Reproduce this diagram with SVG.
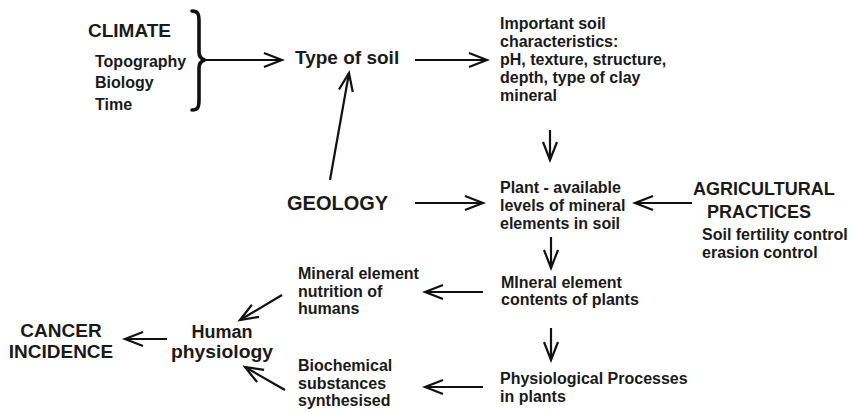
<svg xmlns="http://www.w3.org/2000/svg" width="852" height="412" viewBox="0 0 852 412">
<defs>
<marker id="ah" markerUnits="userSpaceOnUse" markerWidth="24" markerHeight="20" viewBox="0 0 24 20" refX="21" refY="10" orient="auto">
<path d="M3,3 L21,10 L3,17" fill="none" stroke="#111" stroke-width="2.2" stroke-linejoin="miter"/>
</marker>
<style>
text{font-family:"Liberation Sans",Arial,sans-serif;font-weight:bold;fill:#1a1a1a}
.big{font-size:19px}
.mid{font-size:16px}
.sm{font-size:16px}
.c line{stroke:#111;stroke-width:2.2;marker-end:url(#ah)}
</style>
</defs>
<rect width="852" height="412" fill="#fff"/>
<g id="climate">
<text class="big" x="88" y="37">CLIMATE</text>
<text class="sm" x="95" y="67">Topography</text>
<text class="sm" x="95" y="88">Biology</text>
<text class="sm" x="95" y="110">Time</text>
<path d="M192,11 C198,11 199,14 199,21 L199,52 C199,57 201,59 205,60 C201,61 199,63 199,68 L199,100 C199,107 198,110 192,110" fill="none" stroke="#111" stroke-width="3.6" stroke-linecap="round"/>
</g>
<g id="type-of-soil"><text class="big" x="295" y="64">Type of soil</text></g>
<g id="soil-characteristics">
<text class="mid" x="500" y="29">Important soil</text>
<text class="mid" x="500" y="47">characteristics:</text>
<text class="mid" x="500" y="65">pH, texture, structure,</text>
<text class="mid" x="500" y="83">depth, type of clay</text>
<text class="mid" x="500" y="101">mineral</text>
</g>
<g id="geology"><text style="font-size:20px" x="287" y="210">GEOLOGY</text></g>
<g id="plant-available">
<text class="mid" x="500" y="193">Plant - available</text>
<text class="mid" x="500" y="211">levels of mineral</text>
<text class="mid" x="500" y="229">elements in soil</text>
</g>
<g id="agricultural-practices">
<text style="font-size:18px" x="693" y="195">AGRICULTURAL</text>
<text style="font-size:18px" x="707" y="218">PRACTICES</text>
<text class="sm" x="702" y="240">Soil fertility control</text>
<text class="sm" x="702" y="258">erasion control</text>
</g>
<g id="mineral-contents">
<text class="mid" x="501" y="288">MIneral element</text>
<text class="mid" x="501" y="305">contents of plants</text>
</g>
<g id="physiological-processes">
<text class="mid" x="500" y="384">Physiological Processes</text>
<text class="mid" x="500" y="402">in plants</text>
</g>
<g id="mineral-nutrition">
<text class="mid" x="298" y="279">Mineral element</text>
<text class="mid" x="298" y="297">nutrition of</text>
<text class="mid" x="298" y="314">humans</text>
</g>
<g id="biochemical">
<text class="mid" x="298" y="371">Biochemical</text>
<text class="mid" x="298" y="389">substances</text>
<text class="mid" x="298" y="406">synthesised</text>
</g>
<g id="human-physiology">
<text style="font-size:18px" x="222" y="338" text-anchor="middle">Human</text>
<text style="font-size:18px" x="222" y="358" text-anchor="middle" textLength="102" lengthAdjust="spacingAndGlyphs">physiology</text>
</g>
<g id="cancer-incidence">
<text class="big" x="61" y="337" text-anchor="middle">CANCER</text>
<text class="big" x="61" y="358" text-anchor="middle">INCIDENCE</text>
</g>
<g id="connectors" class="c">
<line x1="205" y1="60" x2="282" y2="60"/>
<line x1="415" y1="60" x2="487" y2="60"/>
<line x1="330" y1="180" x2="349" y2="73"/>
<line x1="550" y1="130" x2="550" y2="160"/>
<line x1="415" y1="203" x2="483" y2="203"/>
<line x1="692" y1="203" x2="635" y2="203"/>
<line x1="551" y1="237" x2="551" y2="268"/>
<line x1="483" y1="292" x2="425" y2="292"/>
<line x1="551" y1="328" x2="551" y2="360"/>
<line x1="483" y1="387" x2="425" y2="387"/>
<line x1="282" y1="295" x2="240" y2="320"/>
<line x1="285" y1="390" x2="245" y2="367"/>
<line x1="167" y1="339" x2="125" y2="339"/>
</g>
</svg>
